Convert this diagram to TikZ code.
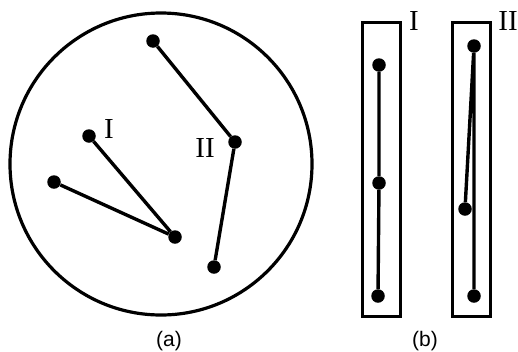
\documentclass[tikz,border=0pt]{standalone}
\usepackage{fontspec}
\setmainfont{Liberation Serif}
\setsansfont{Liberation Sans}
\begin{document}
\begin{tikzpicture}[x=1pt,y=-1pt,
  seg/.style={line width=3.4pt},
  dot/.style={circle,fill=black,inner sep=0pt,minimum size=13.5pt},
  frame/.style={draw,line width=3pt},
  roman/.style={font=\fontsize{29}{29}\selectfont},
  captext/.style={font=\sffamily\fontsize{21}{21}\selectfont}]
\useasboundingbox (0,0) rectangle (518,351);
% (a)
\node[draw,circle,line width=3.2pt,minimum size=302pt,inner sep=0pt] (C) at (161,164) {};
\node[dot] (t) at (153,41) {};
\node[dot] (v2) at (235,142) {};
\node[dot] (b2) at (214,267) {};
\node[dot] (p1) at (89,136) {};
\node[dot] (l1) at (54,182) {};
\node[dot] (v1) at (175,237) {};
\draw[seg] (t) -- (v2) -- (b2);
\draw[seg] (p1) -- (v1) -- (l1);
\node[roman] (LI) at (109,129) {I};
\node[roman] (LII) at (205,148) {II};
\node[captext] (la) at (169,341) {(a)};
% (b)
\node[frame,minimum width=38pt,minimum height=294pt,inner sep=0pt] (B1) at (381,169) {};
\node[frame,minimum width=38pt,minimum height=294pt,inner sep=0pt] (B2) at (471,169) {};
\node[dot] (q1) at (379,65) {};
\node[dot] (q2) at (379,183) {};
\node[dot] (q3) at (378,296) {};
\draw[seg] (q1) -- (q2) -- (q3);
\node[dot] (r1) at (474,46) {};
\node[dot] (r2) at (465,209) {};
\node[dot] (r3) at (474,296) {};
\draw[seg] (r2) -- (r1) -- (r3);
\node[roman] (BI) at (414,21) {I};
\node[roman] (BII) at (508,21) {II};
\node[captext] (lb) at (425,341) {(b)};
\end{tikzpicture}
\end{document}
